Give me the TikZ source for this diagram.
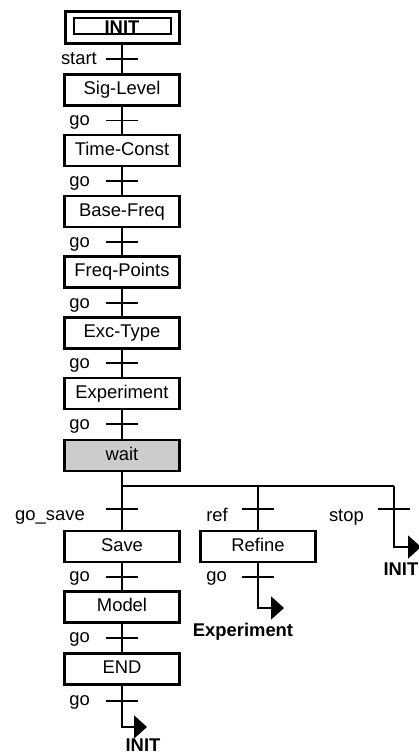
\documentclass[tikz,border=0pt]{standalone}
\usepackage{fontspec}
\setmainfont{Liberation Sans}
\usetikzlibrary{arrows.meta}
\begin{document}
\begin{tikzpicture}[x=1pt,y=-1pt,
  txt/.style={font=\fontsize{18.4pt}{22pt}\selectfont},
  stepbox/.style={draw, line width=2.2pt, minimum width=115pt, minimum height=31pt,
    inner sep=0pt, txt, text height=13.2pt, text depth=3.5pt},
  conn/.style={line width=1.7pt},
  branch/.style={line width=1.3pt},
  tbar/.style={line width=1.7pt},
  lbl/.style={anchor=base east, inner sep=0pt, txt},
  jumplbl/.style={inner sep=0pt, font=\fontsize{18.4pt}{22pt}\selectfont\bfseries},
  jump/.style={conn, -{Triangle[length=13pt,width=23pt]}}
]
\useasboundingbox (0,0) rectangle (419,754);

% initial step
\node[draw, line width=3pt, minimum width=114pt, minimum height=32pt, inner sep=0pt] (initout) at (122,27.5) {};
\node[draw, line width=2pt, minimum width=97pt, minimum height=16pt, inner sep=0pt,
  font=\fontsize{18.4pt}{22pt}\selectfont\bfseries, text height=13.2pt, text depth=0pt] (init) at (122,26.5) {INIT};

% steps
\node[stepbox] (sig)  at (122,90)    {Sig-Level};
\node[stepbox] (tc)   at (122,150.5) {Time-Const};
\node[stepbox] (bf)   at (122,211.5) {Base-Freq};
\node[stepbox] (fp)   at (122,272)   {Freq-Points};
\node[stepbox] (exc)  at (122,333)   {Exc-Type};
\node[stepbox] (exp)  at (122,393.5) {Experiment};
\node[stepbox, fill=black!20] (wait) at (122,455.5) {wait};
\node[stepbox] (save) at (122,546.5) {Save};
\node[stepbox] (model) at (122,607)  {Model};
\node[stepbox] (end)  at (122,669)   {END};
\node[stepbox] (refine) at (258,546.5) {Refine};

% connectors
\draw[conn] (initout.south) -- (sig.north);
\draw[conn] (sig.south) -- (tc.north);
\draw[conn] (tc.south) -- (bf.north);
\draw[conn] (bf.south) -- (fp.north);
\draw[conn] (fp.south) -- (exc.north);
\draw[conn] (exc.south) -- (exp.north);
\draw[conn] (exp.south) -- (wait.north);
\draw[conn] (wait.south) -- (save.north);
\draw[conn] (save.south) -- (model.north);
\draw[conn] (model.south) -- (end.north);

% divergence
\coordinate (br) at (122,486);
\coordinate (brref) at (258,486);
\coordinate (brstop) at (394,486);
\draw[branch] (br) -- (brstop);
\draw[conn] (brref) -- (refine.north);

% jumps
\coordinate (jinit) at (147,727);
\coordinate (jexp) at (284,608);
\coordinate (jstop) at (421,547);
\draw[jump] (end.south) |- (jinit);
\draw[jump] (refine.south) |- (jexp);
\draw[jump] (brstop) |- (jstop);
\node[jumplbl, anchor=base] (linit) at (143,751) {INIT};
\node[jumplbl, anchor=base] (lexp) at (243,636.5) {Experiment};
\node[jumplbl, anchor=base east] (lstop) at (418.5,575) {INIT};

% transitions
\foreach \n/\x/\y in {t0/122/59, t1/122/120.5, t2/122/181, t3/122/242, t4/122/303,
  t5/122/363, t6/122/424, t7/122/509, t8/258/509, t9/394/509, t10/122/577,
  t11/122/638, t12/122/701, t13/258/577}{
  \coordinate (\n) at (\x,\y);
  \draw[tbar] ([xshift=-16pt]\n) -- ([xshift=16pt]\n);
}

% transition labels
\node[lbl] (l0) at (97,64.5) {start};
\node[lbl] (l1) at (90,126) {go};
\node[lbl] (l2) at (90,186.5) {go};
\node[lbl] (l3) at (90,247.5) {go};
\node[lbl] (l4) at (90,308.5) {go};
\node[lbl] (l5) at (90,368.5) {go};
\node[lbl] (l6) at (90,429.5) {go};
\node[lbl] (l7) at (85,520.5) {go\_save};
\node[lbl] (l8) at (228,521) {ref};
\node[lbl] (l9) at (364,521) {stop};
\node[lbl] (l10) at (90,581.5) {go};
\node[lbl] (l11) at (90,642.5) {go};
\node[lbl] (l12) at (90,705.5) {go};
\node[lbl] (l13) at (227,581.5) {go};
\end{tikzpicture}
\end{document}
